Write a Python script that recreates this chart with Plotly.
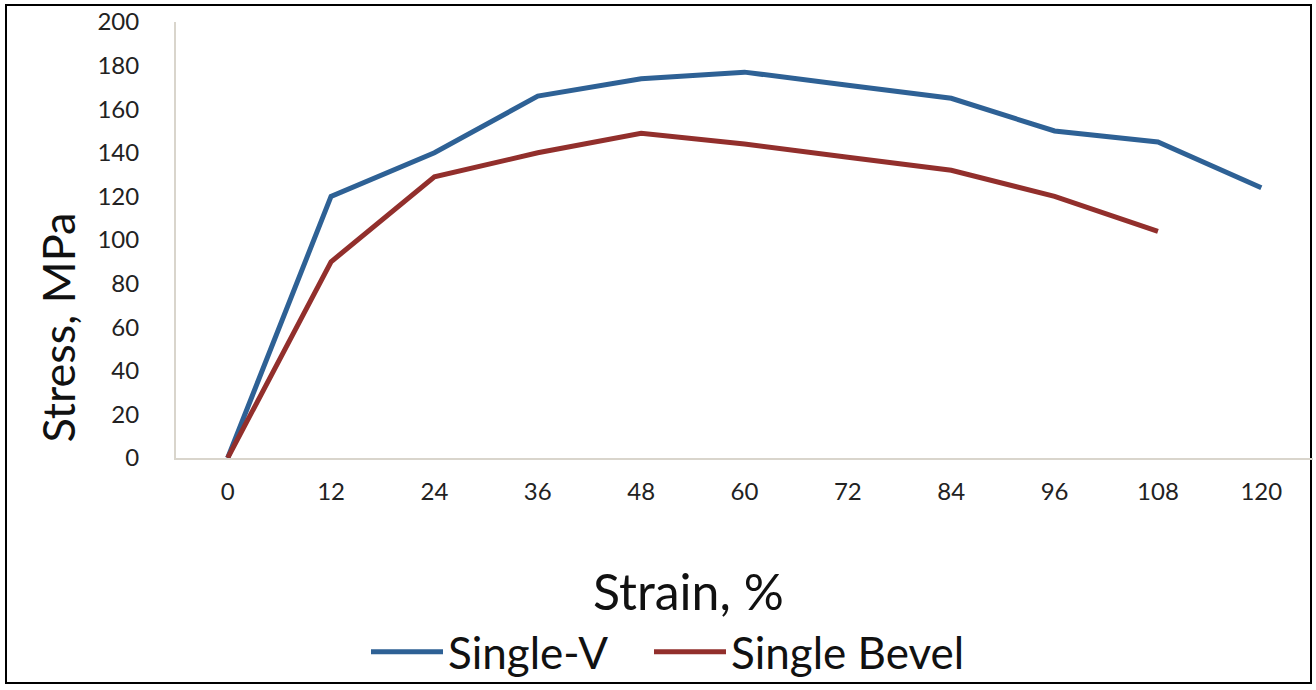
import plotly.graph_objects as go

strain = ["0", "12", "24", "36", "48", "60", "72", "84", "96", "108", "120"]
single_v = [0, 120, 140, 166, 174, 177, 171, 165, 150, 145, 124]
single_bevel = [0, 90, 129, 140, 149, 144, 138, 132, 120, 104]

x_title = "Strain, %"
y_title = "Stress, MPa"

W, H = 1316, 690
L, R, T, B = 176, 3, 22, 230
pw, ph = W - L - R, H - T - B

def px(x):
    return (x - L) / pw

def py(y):
    return (H - B - y) / ph

fig = go.Figure()
fig.add_trace(go.Scatter(x=strain, y=single_v, mode="lines", name="Single-V",
                         line=dict(color="#2E6195", width=5), legend="legend"))
fig.add_trace(go.Scatter(x=strain[:len(single_bevel)], y=single_bevel, mode="lines",
                         name="Single Bevel", line=dict(color="#922F2C", width=5),
                         legend="legend2"))

font_family = "Lato, 'Open Sans', sans-serif"
legend_common = dict(orientation="h", xanchor="left", y=py(655), yanchor="middle",
                     font=dict(size=44, color="#111111"), itemwidth=72,
                     bgcolor="rgba(0,0,0,0)")

fig.update_layout(
    width=W, height=H,
    margin=dict(l=L, r=R, t=T, b=B),
    paper_bgcolor="white", plot_bgcolor="white",
    font=dict(family=font_family, color="#222222"),
    showlegend=True,
    legend=dict(x=px(366), **legend_common),
    legend2=dict(x=px(649), **legend_common),
    xaxis=dict(type="category", categoryorder="array", categoryarray=strain,
               range=[-0.5, 10.5], showgrid=False, showline=True, linecolor="#D9D5CC",
               linewidth=2, ticks="", tickfont=dict(size=24, color="#222222"),
               ticklabelstandoff=11),
    yaxis=dict(range=[0, 200], dtick=20, showgrid=False, showline=True, linecolor="#D9D5CC",
               linewidth=2, ticks="", tickfont=dict(size=24, color="#222222"),
               ticklabelstandoff=30, zeroline=False),
    annotations=[
        dict(text=x_title, xref="paper", yref="paper", x=px(688), y=py(594),
             xanchor="center", yanchor="middle", showarrow=False,
             font=dict(size=50, color="#111111")),
        dict(text=y_title, xref="paper", yref="paper", x=px(58), y=py(329),
             xanchor="center", yanchor="middle", showarrow=False, textangle=-90,
             font=dict(size=45, color="#111111")),
    ],
    shapes=[dict(type="rect", xref="paper", yref="paper",
                 x0=px(6), x1=px(1311), y0=py(686), y1=py(5),
                 line=dict(color="black", width=2), layer="below")],
)

fig.write_html("out.html", config={"displayModeBar": False},
               post_script="document.body.style.margin='0';document.body.style.overflow='hidden';")
